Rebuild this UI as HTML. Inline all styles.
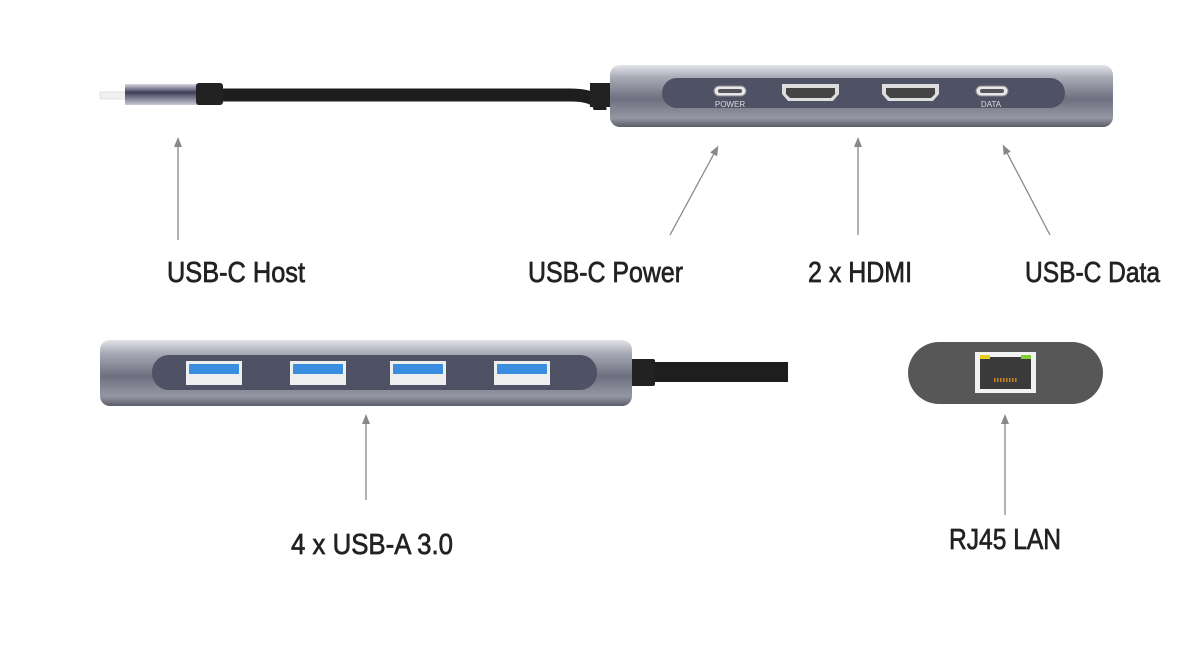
<!DOCTYPE html>
<html><head><meta charset="utf-8"><style>html,body{margin:0;padding:0;background:#fff}svg{display:block}</style></head><body>
<svg width="1200" height="656" viewBox="0 0 1200 656" xmlns="http://www.w3.org/2000/svg">
<defs>
<linearGradient id="body" x1="0" y1="0" x2="0" y2="1">
<stop offset="0" stop-color="#e4e5ea"/><stop offset="0.2" stop-color="#a8aab6"/><stop offset="0.55" stop-color="#6e7080"/><stop offset="0.85" stop-color="#9597a3"/><stop offset="1" stop-color="#5a5c68"/></linearGradient>
<linearGradient id="plug" x1="0" y1="0" x2="0" y2="1">
<stop offset="0" stop-color="#d8d8e2"/><stop offset="0.4" stop-color="#3e3e5a"/><stop offset="1" stop-color="#c9c9d4"/></linearGradient>
<marker id="ah" markerWidth="10" markerHeight="10" refX="5" refY="5" orient="auto" markerUnits="userSpaceOnUse">
<path d="M0,1 L10,5 L0,9 z" fill="#888"/></marker>
</defs>
<rect x="100" y="92" width="26" height="7" fill="#f0f0f0" stroke="#ccc" stroke-width="0.5"/>
<rect x="125" y="84" width="74" height="21" fill="url(#plug)"/>
<path d="M210,95 H570 Q600,95 600,110" stroke="#1e1e1e" stroke-width="13" fill="none"/>
<rect x="196" y="83" width="27" height="22" rx="3" fill="#222"/>
<rect x="590" y="83" width="22" height="24" fill="#222"/>
<rect x="610" y="65" width="503" height="62" rx="10" fill="url(#body)"/>
<rect x="662" y="78" width="403" height="30" rx="15" fill="#4f5165"/>
<rect x="714" y="86" width="32" height="10" rx="5" fill="#e8e8ec" stroke="#888"/>
<rect x="718" y="89" width="24" height="4" rx="2" fill="#555"/>
<text x="730" y="107" font-family="Liberation Sans,sans-serif" font-size="8" fill="#ddd" text-anchor="middle">POWER</text>
<path d="M782,84 h57 v10 l-6,7 h-45 l-6,-7 z" fill="#ddd"/><path d="M786,88 h49 v6 l-4,4 h-41 l-4,-4 z" fill="#444"/>
<path d="M882,84 h57 v10 l-6,7 h-45 l-6,-7 z" fill="#ddd"/><path d="M886,88 h49 v6 l-4,4 h-41 l-4,-4 z" fill="#444"/>
<rect x="976" y="86" width="32" height="10" rx="5" fill="#e8e8ec" stroke="#888"/>
<rect x="980" y="89" width="24" height="4" rx="2" fill="#555"/>
<text x="991" y="107" font-family="Liberation Sans,sans-serif" font-size="8" fill="#ddd" text-anchor="middle">DATA</text>
<rect x="630" y="362" width="158" height="20" fill="#1e1e1e"/>
<rect x="630" y="359" width="25" height="27" rx="2" fill="#222"/>
<rect x="100" y="340" width="532" height="66" rx="10" fill="url(#body)"/>
<rect x="152" y="355" width="445" height="35" rx="17" fill="#4f5165"/>
<g>
<rect x="186" y="361" width="56" height="24" fill="#eee"/><rect x="189" y="364" width="50" height="10" fill="#3b8de0"/>
<rect x="290" y="361" width="56" height="24" fill="#eee"/><rect x="293" y="364" width="50" height="10" fill="#3b8de0"/>
<rect x="390" y="361" width="56" height="24" fill="#eee"/><rect x="393" y="364" width="50" height="10" fill="#3b8de0"/>
<rect x="494" y="361" width="56" height="24" fill="#eee"/><rect x="497" y="364" width="50" height="10" fill="#3b8de0"/>
</g>
<rect x="908" y="342" width="195" height="62" rx="31" fill="#575757"/>
<rect x="975" y="352" width="61" height="41" fill="#f2f2f2"/>
<rect x="980" y="357" width="51" height="32" fill="#3a3a3a"/>
<rect x="980" y="355" width="10" height="4" fill="#e8d020"/><rect x="1021" y="355" width="10" height="4" fill="#7fd030"/>
<path d="M994,380 h23" stroke="#c8862a" stroke-width="4" stroke-dasharray="1.5,1.5"/>
<g stroke="#888" stroke-width="1.3" fill="none">
<line x1="178" y1="240" x2="178" y2="142" marker-end="url(#ah)"/>
<line x1="670" y1="235" x2="716" y2="150" marker-end="url(#ah)"/>
<line x1="858" y1="235" x2="858" y2="142" marker-end="url(#ah)"/>
<line x1="1050" y1="235" x2="1005" y2="149" marker-end="url(#ah)"/>
<line x1="366" y1="500" x2="366" y2="419" marker-end="url(#ah)"/>
<line x1="1005" y1="515" x2="1005" y2="419" marker-end="url(#ah)"/>
</g>
<g font-family="Liberation Sans,sans-serif" font-size="29" fill="#222" stroke="#222" stroke-width="0.7">
<text x="167" y="282" textLength="138" lengthAdjust="spacingAndGlyphs">USB-C Host</text>
<text x="528" y="282" textLength="155" lengthAdjust="spacingAndGlyphs">USB-C Power</text>
<text x="808" y="282" textLength="104" lengthAdjust="spacingAndGlyphs">2 x HDMI</text>
<text x="1025" y="282" textLength="135" lengthAdjust="spacingAndGlyphs">USB-C Data</text>
<text x="291" y="554" textLength="162" lengthAdjust="spacingAndGlyphs">4 x USB-A 3.0</text>
<text x="949" y="549" textLength="112" lengthAdjust="spacingAndGlyphs">RJ45 LAN</text>
</g>
</svg>
</body></html>
